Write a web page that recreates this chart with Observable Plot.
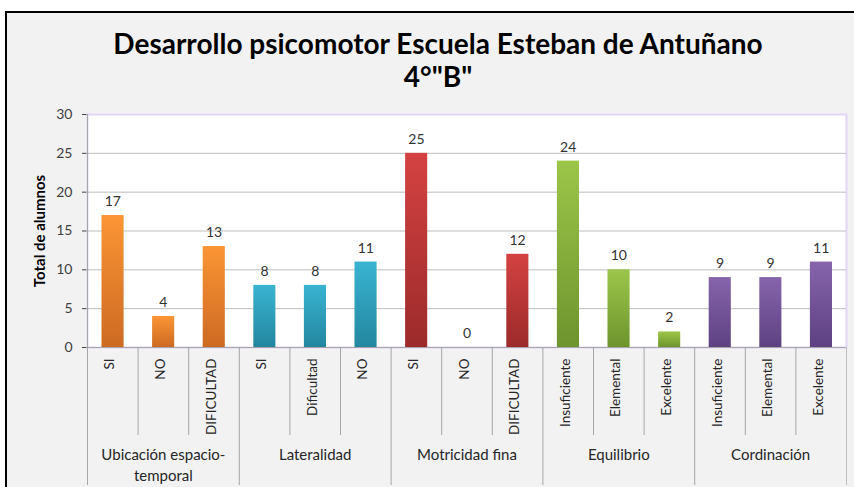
<!DOCTYPE html>
<html>
<head>
<meta charset="utf-8">
<script src="https://cdn.jsdelivr.net/npm/d3@7"></script>
<script src="https://cdn.jsdelivr.net/npm/@observablehq/plot@0.6"></script>
<style>
  html, body { margin: 0; padding: 0; background: #ffffff; }
  #chart { position: relative; width: 854px; height: 487px; overflow: hidden; }
  #bg { position: absolute; left: 5px; top: 11px; width: 900px; height: 500px;
        background: #f2f2f2; border-left: 2px solid #000; border-top: 2px solid #000; }
  #chart svg { position: absolute; left: 0; top: 0; }
</style>
</head>
<body>
<div id="chart"><div id="bg"></div></div>
<script>
const title = "Desarrollo psicomotor Escuela Esteban de Antuñano\n4°\"B\"";
const yLabel = "Total de alumnos";
const groups = ["Ubicación espacio-\ntemporal", "Lateralidad", "Motricidad fina", "Equilibrio", "Cordinación"];
const categories = ["SI", "NO", "DIFICULTAD", "SI", "Dificultad", "NO", "SI", "NO", "DIFICULTAD",
  "Insuficiente", "Elemental", "Excelente", "Insuficiente", "Elemental", "Excelente"];
const groupIndex = [0, 0, 0, 1, 1, 1, 2, 2, 2, 3, 3, 3, 4, 4, 4];
const values = [17, 4, 13, 8, 8, 11, 25, 0, 12, 24, 10, 2, 9, 9, 11];
const yTicks = [0, 5, 10, 15, 20, 25, 30];
const groupTop = ["#fb9535", "#39b4d2", "#d44242", "#9cc649", "#8764ac"];
const groupBottom = ["#cd6a22", "#23869f", "#9c2a2a", "#6d942e", "#5d4182"];

const data = categories.map((c, i) => ({i, cat: c, g: groupIndex[i], v: values[i]}));
const groupData = groups.map((name, g) => {
  const idx = groupIndex.map((gi, i) => gi === g ? i : -1).filter(i => i >= 0);
  return {name, start: idx[0], end: idx[idx.length - 1] + 1};
});
const innerBounds = data.filter(d => d.i > 0 && groupIndex[d.i - 1] === d.g).map(d => d.i);
const groupBounds = groupData.slice(1).map(d => d.start);

function gradients() {
  const g = d3.create("svg:g");
  const defs = g.append("defs");
  groupTop.forEach((c, k) => {
    const lg = defs.append("linearGradient").attr("id", "grad" + k)
      .attr("x1", 0).attr("y1", 0).attr("x2", 0).attr("y2", 1);
    lg.append("stop").attr("offset", "0%").attr("stop-color", c);
    lg.append("stop").attr("offset", "100%").attr("stop-color", groupBottom[k]);
  });
  return g.node();
}

const chart = Plot.plot({
  width: 854,
  height: 487,
  marginTop: 114,
  marginLeft: 87,
  marginRight: 8,
  marginBottom: 140,
  style: {fontFamily: "Lato, 'Open Sans', sans-serif", fontSize: "14px", color: "#404040", background: "transparent"},
  x: {domain: [0, categories.length], axis: null},
  y: {domain: [0, 30], ticks: yTicks, tickSize: 5, tickPadding: 10, label: null},
  color: {type: "identity"},
  marks: [
    gradients,
    Plot.frame({fill: "white", stroke: "#e2d5f7", strokeWidth: 2}),
    Plot.ruleY(yTicks.filter(t => t > 0 && t < 30), {stroke: "#bdbdbd"}),
    Plot.ruleY([0], {stroke: "#a6a6a6"}),
    Plot.ruleX([0], {stroke: "#a6a6a6", insetBottom: -138}),
    Plot.ruleX([categories.length], {y1: 0, y2: 0, stroke: "#bdbdbd", insetBottom: -138}),
    Plot.ruleX(groupBounds, {y1: 0, y2: 0, stroke: "#a6a6a6", insetBottom: -138}),
    Plot.ruleX(innerBounds, {y1: 0, y2: 0, stroke: "#a6a6a6", insetBottom: -88}),
    Plot.rectY(data, {x1: "i", x2: d => d.i + 1, y: "v", fill: d => `url(#grad${d.g})`, insetLeft: 14.5, insetRight: 14}),
    Plot.text(data, {x: d => d.i + 0.5, y: "v", text: d => String(d.v), dy: -14, fontSize: 14, fill: "#333"}),
    Plot.text(data, {x: d => d.i + 0.5, frameAnchor: "bottom", dy: 11, dx: 1.5, rotate: -90, textAnchor: "end", text: "cat", fontSize: 13.5, fill: "#262626"}),
    Plot.text(groupData, {x: d => (d.start + d.end) / 2, frameAnchor: "bottom", dy: 98, lineAnchor: "top", lineHeight: 1.4, text: "name", fontSize: 15, fill: "#262626"}),
    Plot.text([yLabel], {frameAnchor: "left", dx: -47, rotate: -90, textAnchor: "middle", text: d => d, fontWeight: "bold", fontSize: 15, fill: "#000"}),
    Plot.text([title], {frameAnchor: "top", dx: -29, dy: -84, lineAnchor: "top", lineHeight: 1.18, text: d => d, fontWeight: "bold", fontSize: 28, fill: "#000"})
  ]
});
document.getElementById("chart").appendChild(chart);
</script>
</body>
</html>
